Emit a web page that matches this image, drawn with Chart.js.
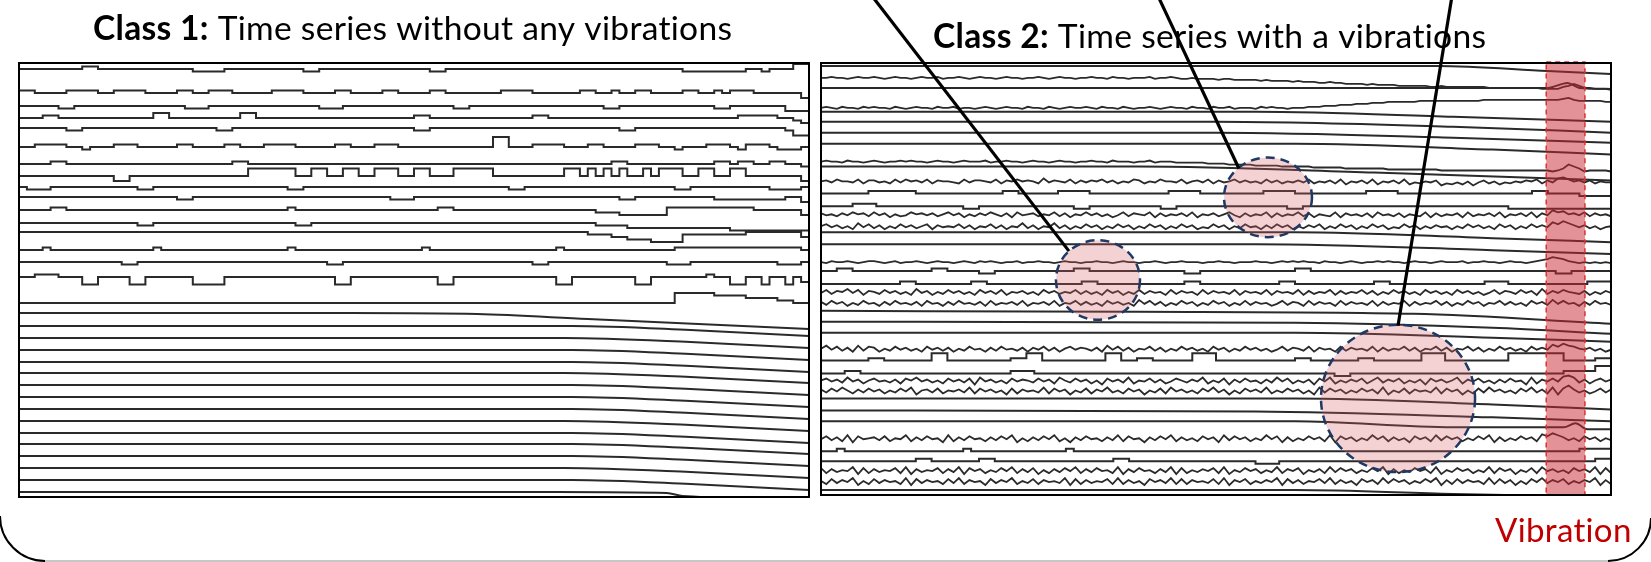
<!DOCTYPE html>
<html>
<head>
<meta charset="utf-8">
<title>Vibration classes</title>
<script src="https://cdn.jsdelivr.net/npm/chart.js@4.4.1/dist/chart.umd.min.js"></script>
<style>
  html, body { margin: 0; padding: 0; background: #fff; }
  #stage { position: relative; width: 1651px; height: 562px; overflow: hidden; }
  #stage canvas { position: absolute; top: 0; }
  #class1 { left: 0; }
  #class2 { left: 815px; }
</style>
</head>
<body>
<div id="stage">
  <canvas id="class1" width="815" height="562"></canvas>
  <canvas id="class2" width="836" height="562"></canvas>
</div>
<script>
// Traces are stacked on one y axis (0 at the top, 434 at the bottom).
// Step and noise traces are written as code strings: one char per sample,
// '5' is the resting level of the trace, other chars are offsets from it.
const STEP_UNIT = 2.5;
const NOISE_UNIT = 1;

// ---- Class 1: no vibration ----
const class1StepBase = [6, 30, 43, 55, 65, 84, 101, 113, 124, 134, 147, 160, 169, 187, 199, 214, 240];
const class1StepCodes = [
  "5555555544 5555555555 5566665555 5555556655 5555555555 5566555555 5555555555 5555555555 5555666666 6655655533",
  "4455554444 5544445555 4455444555 5544445555 4455554455 5544555555 5444455555 5445545544 5555445545 4445555557",
  "5555566555 5555555555 5666555555 5555555566 6555555555 5555566555 5555555555 5555665555 5555555566 5555555777",
  "5554455555 5555555335 5555555533 5555555555 5555555555 4455555555 5555544555 5555555555 5555555555 5444445567",
  "5555556655 5555555555 5555566555 5555555555 5555555555 6655555555 5555555555 5555556655 5555555555 5555555688",
  "5544445565 5544455555 4455554455 5444455555 4455544455 5555555555 1155544445 5544555544 4556555444 5644456665",
  "5555445555 5555555555 5555555445 5555555555 5555555555 5555555555 5555555555 5555544555 5555555544 5445544556",
  "5555555555 5577555555 5555555552 2222255225 5225522255 2255522222 5555555552 2525252552 5222552255 2255555557",
  "5666555555 5555566555 5555555555 5555665555 5555555555 5555555555 5566555555 5555555555 5556655555 5555566665",
  "5555555555 5555555555 6655555555 5555555555 5555555666 5555555555 5555555555 5555556655 5555555566 6666666557",
  "5555445555 5555555555 5555555555 5555455555 5555555555 5554455555 5555555555 5556667777 7744444444 4445555557",
  "5555555555 5555566555 5555555555 5555566555 5555555555 5555555555 5555555555 5556666777 7777777777 8888888888",
  "5555555555 5555555555 5555555555 5555555555 5555555555 5555555555 5555555555 5566677888 9999666666 6655555557",
  "5554555555 5555555455 5555555555 5555455555 5555555555 5455555555 5555555545 5555555555 5554444444 4444444445",
  "5555555555 5556655555 5555555555 5555555556 6555555555 5555555555 5555566555 5555555555 5566655555 5555556665",
  "5544455588 5555885555 5588885555 5555555555 8855555555 5558855555 5555555588 5555555588 5555555455 8855855857",
  "5555555555 5555555555 5555555555 5555555555 5555555555 5555555555 5555555555 5555555555 5551111122 2233334455"
];
const class1Smooth = [
  [[0, 250], [42, 250], [58, 251], [72, 256], [100, 266]],
  [[0, 263], [70, 263], [85, 267], [100, 273]],
  [[0, 275], [69, 275], [85, 279], [100, 285]],
  [[0, 287], [70, 287], [85, 291], [100, 297]],
  [[0, 299], [70, 299], [85, 303], [100, 309]],
  [[0, 310], [69, 310], [85, 314], [100, 320]],
  [[0, 322], [70, 322], [85, 326], [100, 332]],
  [[0, 334], [70, 334], [85, 338], [100, 344]],
  [[0, 346], [70, 346], [85, 350], [100, 356]],
  [[0, 358], [69, 358], [85, 362], [100, 368]],
  [[0, 370], [70, 370], [85, 374], [100, 380]],
  [[0, 381], [70, 381], [85, 385], [100, 391]],
  [[0, 393], [70, 393], [85, 397], [100, 403]],
  [[0, 405], [69, 405], [85, 409], [100, 415]],
  [[0, 417], [70, 417], [85, 421], [100, 427]],
  [[0, 429], [68, 429], [82, 430], [84, 433], [100, 436]]
];

// ---- Class 2: with vibration ----
const class2Smooth = [
  [[0, 3], [78, 3], [92, 8], [100, 11]],
  [[0, 25], [60, 25], [92, 25], [94.5, 20], [96, 25], [100, 26]],
  [[0, 49], [55, 49], [80, 54], [100, 59]],
  [[0, 59], [50, 59], [80, 64], [100, 70]],
  [[0, 70], [50, 70], [80, 75], [100, 80]],
  [[0, 81], [60, 81], [85, 87], [100, 92]],
  [[0, 104], [40, 104], [70, 110], [100, 118]],
  [[0, 170], [60, 170], [85, 176], [100, 180]],
  [[0, 182], [55, 182], [85, 188], [100, 192]],
  [[0, 249], [40, 250], [75, 252], [100, 262]],
  [[0, 260], [60, 261], [85, 266], [100, 272]],
  [[0, 271], [60, 271], [85, 276], [100, 280]],
  [[0, 337], [60, 337], [85, 343], [100, 348]],
  [[0, 349], [55, 350], [85, 356], [100, 360]],
  [[0, 360], [60, 360], [80, 366], [94, 366], [95.5, 362], [97, 368], [100, 368]],
  [[0, 429], [60, 429], [80, 433], [100, 436]]
];
const class2StepBase = [131, 144, 209, 222, 299, 312, 390, 400];
const class2StepCodes = [
  "5555554444 4455555555 5554455555 4444555555 5555444455 5555554444 5555555554 4445555555 5555555555 4455556666",
  "5555444555 5555555566 5555555555 5566555555 5556655555 5555555556 6555555555 5555555555 5555555666 6666666666",
  "5544555555 5555445555 6655555555 5544555555 5555556655 5555555555 4455555555 5555555555 5555555555 5556655555",
  "5555555555 4455555554 4555555555 5554455555 5555554455 5555555544 5555555555 4455555555 5555444555 5555555444",
  "5555554455 5555225555 5555442255 5555552255 4455555222 5555555555 4455555544 5555552225 5555555222 2222555544",
  "5554455555 5555555555 5555444555 5555555555 5555555555 5555555555 5555566555 5555555555 5555555555 5555444422",
  "5545555555 5555555545 5555555555 5455555555 5555555555 5555555555 5555555555 5555555555 5555555555 5555554444",
  "5555555555 5544555555 4455555555 5555555445 5555555555 5555566655 5555555555 5555555555 5555555555 5555555544"
];
const class2NoiseBase = [15, 40, 99, 119, 152, 164, 200, 230, 241, 287, 319, 329, 377, 409, 420];
const class2NoiseCodes = [
  "5545565455 4565455654 5546554565 4556545565 5456545565 5455645565 5546554566 5666676677 7778788889 8999aa9aab bbbcbccccd dddddeedee eeeeeeffff ffffffgggg edbdffgggh",
  "a9ab9aab9a 9aab9aba9a ab9aa9baab a9aba9aab9 aab9aba9aa 9ab9aab9ab aa9aba9aab 9aab9aa9ba aab9a9aaba aa99988877 7666555444 4443333333 3333322222 2222222222 1023333344",
  "5455645565 4565545455 6545565455 5465545565 4556545565 5455645556 5546555666 6667777888 8899999aaa aaabbbbbbc cccccccddd dddddddeee eeeeeeeeee eeeeeeeefe c8acfeeeef",
  "5463556374 4657363546 3745567364 4563745354 5726456374 6453647563 4756355637 5463746536 4657364756 4637564738 5647385647 3867564978 6859647586 7564537462 1354647566",
  "4657463547 3648576354 6475364857 4635748365 4756374856 3647586374 5638475647 3856475368 4756384756 3748567384 6574836574 8567384756 4837564738 5647384613 2546374657",
  "5364758263 7485736475 3846563748 5637485627 4856274857 3648573648 5736485736 4867364857 3658473648 5746385736 4857364867 3648574658 5736475836 4857364613 0246475865",
  "5645545654 4565465545 6545565456 4545655465 5455654556 5545565455 6554565545 5565545565 5545565454 5455645565 4565545455 6545565455 5465545565 4556543201 2456565656",
  "6374526384 5736475826 4857364758 3647385647 5836475637 4758364857 3746583746 5837465738 4657384657 3847563847 5637485736 4758364758 3647586374 5736482746 3567485746",
  "4736485736 5847365748 3658473657 4837564738 5647385637 4758364758 2637485736 4857364857 3746586374 5837465837 4657384756 3847563748 5736485637 4758364726 3658473657",
  "5263748273 4857364758 3647485736 5847365748 4637485364 5748263748 5637485736 4758364857 3647586374 5738465837 4657384756 3748563748 5637485736 4758364613 0235647586",
  "5364726485 3657483526 4758364739 2647583645 7364825736 4859364728 5637486357 4628573947 3658472638 5749362857 4638527463 8574936475 2846375847 3659284636 1027485364",
  "4736258473 6485736295 4738564728 3647593846 5728364957 3846275836 4957382647 5836274958 3647285736 4859273648 5736482957 3846572836 4958372647 5836274829 3047586374",
  "6374829365 4738562847 3659284736 5847362958 4736285947 3658472836 5947362847 5836492736 4857263948 5736482936 4857263847 5936482736 4857362948 5736481302 4758364857",
  "3847562938 4756382947 5638472936 4857362847 3958473628 4736582947 3658472938 5746382957 3648572846 3957482736 4857362948 5736482957 3648572836 4957382647 5836472938",
  "5837462958 3746582937 4658372846 5937462857 3846572938 4756382847 5936472838 4657382946 3857462937 4856372847 5936482736 4857362948 3746582837 4958362746 3857462948"
];

// annotations in data units
const vibrationWindow = [91.8, 96.7];
const highlightZones = [
  { x: 35.06, y: 218, rx: 5.32, ry: 40 },
  { x: 56.58, y: 135, rx: 5.57, ry: 40 },
  { x: 73.04, y: 337, rx: 9.75, ry: 74 }
];
const pointerTips = [[31.39, 189], [52.9, 106], [73.04, 264]];

function stepPoints(base, codes) {
  const s = codes.replace(/\s+/g, '');
  const pts = Array.from(s, (c, i) => ({ x: i * 100 / s.length, y: base + (parseInt(c, 36) - 5) * STEP_UNIT }));
  pts.push({ x: 100, y: pts[pts.length - 1].y });
  return pts;
}
function noisePoints(base, codes) {
  const s = codes.replace(/\s+/g, '');
  return Array.from(s, (c, i) => ({ x: i * 100 / (s.length - 1), y: base + (parseInt(c, 36) - 5) * NOISE_UNIT }));
}
function smoothPoints(pairs) {
  return pairs.map(([x, y]) => ({ x, y }));
}

const LINE = { borderColor: '#2a2a2a', borderWidth: 2, pointRadius: 0, fill: false };
const stepSet = (base, codes) => Object.assign({ data: stepPoints(base, codes), stepped: true }, LINE);
const noiseSet = (base, codes) => Object.assign({ data: noisePoints(base, codes) }, LINE, { borderWidth: 1.8 });
const smoothSet = pairs => Object.assign({ data: smoothPoints(pairs), cubicInterpolationMode: 'monotone' }, LINE);

const FONT = 'Lato, "Open Sans", sans-serif';

function drawTitle(ctx, boldPart, rest, x, baseline, width) {
  ctx.letterSpacing = '0.3px';
  ctx.font = `bold 30px ${FONT}`;
  const w1 = ctx.measureText(boldPart).width;
  ctx.font = `30px ${FONT}`;
  const w2 = ctx.measureText(rest).width;
  const size = 30 * width / (w1 + w2);
  ctx.fillStyle = '#000';
  ctx.textAlign = 'left';
  ctx.textBaseline = 'alphabetic';
  ctx.font = `bold ${size}px ${FONT}`;
  ctx.fillText(boldPart, x, baseline);
  const bw = ctx.measureText(boldPart).width;
  ctx.font = `${size}px ${FONT}`;
  ctx.fillText(rest, x + bw, baseline);
  ctx.letterSpacing = '0px';
}

function drawBox(ctx, a) {
  ctx.setLineDash([]);
  ctx.strokeStyle = '#000';
  ctx.lineWidth = 2;
  ctx.strokeRect(a.left, a.top, a.right - a.left, a.bottom - a.top);
}

function panelOptions(padding) {
  return {
    responsive: false,
    animation: false,
    devicePixelRatio: 1,
    events: [],
    layout: { padding },
    plugins: { legend: { display: false }, tooltip: { enabled: false } },
    scales: {
      x: { type: 'linear', min: 0, max: 100, display: false },
      y: { type: 'linear', min: 0, max: 434, reverse: true, display: false }
    }
  };
}

const class1Overlay = {
  id: 'class1Overlay',
  afterDraw(chart) {
    const { ctx, chartArea: a } = chart;
    ctx.save();
    drawBox(ctx, a);
    drawTitle(ctx, 'Class 1:', ' Time series without any vibrations', 93, 40, 641);
    // outer frame, lower left corner
    ctx.strokeStyle = '#000';
    ctx.lineWidth = 2;
    ctx.beginPath();
    ctx.arc(45, 516, 45, Math.PI, Math.PI / 2, true);
    ctx.stroke();
    ctx.strokeStyle = '#b5b5b5';
    ctx.lineWidth = 1.5;
    ctx.beginPath();
    ctx.moveTo(45, 561);
    ctx.lineTo(815, 561);
    ctx.stroke();
    ctx.restore();
  }
};

const class2Overlay = {
  id: 'class2Overlay',
  afterDatasetsDraw(chart) {
    const { ctx, chartArea: a, scales: { x, y } } = chart;
    ctx.save();
    const b0 = x.getPixelForValue(vibrationWindow[0]);
    const b1 = x.getPixelForValue(vibrationWindow[1]);
    ctx.fillStyle = 'rgba(200, 40, 50, 0.5)';
    ctx.fillRect(b0, a.top - 1, b1 - b0, a.bottom - a.top + 1);
    ctx.setLineDash([5, 4]);
    ctx.strokeStyle = '#e0302f';
    ctx.lineWidth = 1.5;
    ctx.strokeRect(b0, a.top - 1, b1 - b0, a.bottom - a.top + 1);

    ctx.setLineDash([9, 6]);
    highlightZones.forEach(z => {
      const cx = x.getPixelForValue(z.x);
      const cy = y.getPixelForValue(z.y);
      const rx = Math.abs(x.getPixelForValue(z.x + z.rx) - cx);
      const ry = Math.abs(y.getPixelForValue(z.y + z.ry) - cy);
      ctx.beginPath();
      ctx.ellipse(cx, cy, rx, ry, 0, 0, Math.PI * 2);
      ctx.fillStyle = 'rgba(215, 95, 100, 0.28)';
      ctx.fill();
      ctx.strokeStyle = '#1f3864';
      ctx.lineWidth = 2.5;
      ctx.stroke();
    });
    ctx.restore();
  },
  afterDraw(chart) {
    const { ctx, chartArea: a, scales: { x, y } } = chart;
    ctx.save();
    drawBox(ctx, a);
    drawTitle(ctx, 'Class 2:', ' Time series with a vibrations', 118, 48, 555);

    // pointers coming down from above onto the highlighted zones
    const starts = [57, 343, 637];
    ctx.strokeStyle = '#000';
    ctx.lineWidth = 3.2;
    pointerTips.forEach(([tx, ty], i) => {
      ctx.beginPath();
      ctx.moveTo(starts[i], -4);
      ctx.lineTo(x.getPixelForValue(tx), y.getPixelForValue(ty));
      ctx.stroke();
    });

    // label for the red window
    ctx.font = `30px ${FONT}`;
    ctx.letterSpacing = '0.3px';
    const size = 30 * 137 / ctx.measureText('Vibration').width;
    ctx.font = `${size}px ${FONT}`;
    ctx.fillStyle = '#c00000';
    ctx.textAlign = 'left';
    ctx.textBaseline = 'alphabetic';
    ctx.fillText('Vibration', 680, 542);
    ctx.letterSpacing = '0px';

    // outer frame, lower right corner
    ctx.strokeStyle = '#000';
    ctx.lineWidth = 2;
    ctx.beginPath();
    ctx.arc(793, 518, 43, 0, Math.PI / 2, false);
    ctx.stroke();
    ctx.strokeStyle = '#b5b5b5';
    ctx.lineWidth = 1.5;
    ctx.beginPath();
    ctx.moveTo(0, 561);
    ctx.lineTo(793, 561);
    ctx.stroke();
    ctx.restore();
  }
};

new Chart(document.getElementById('class1'), {
  type: 'line',
  data: {
    datasets: [
      ...class1StepCodes.map((codes, i) => stepSet(class1StepBase[i], codes)),
      ...class1Smooth.map(smoothSet)
    ]
  },
  options: panelOptions({ left: 19, right: 6, top: 63, bottom: 65 }),
  plugins: [class1Overlay]
});

new Chart(document.getElementById('class2'), {
  type: 'line',
  data: {
    datasets: [
      ...class2Smooth.map(smoothSet),
      ...class2StepCodes.map((codes, i) => stepSet(class2StepBase[i], codes)),
      ...class2NoiseCodes.map((codes, i) => noiseSet(class2NoiseBase[i], codes))
    ]
  },
  options: panelOptions({ left: 6, right: 40, top: 63, bottom: 67 }),
  plugins: [class2Overlay]
});
</script>
</body>
</html>
